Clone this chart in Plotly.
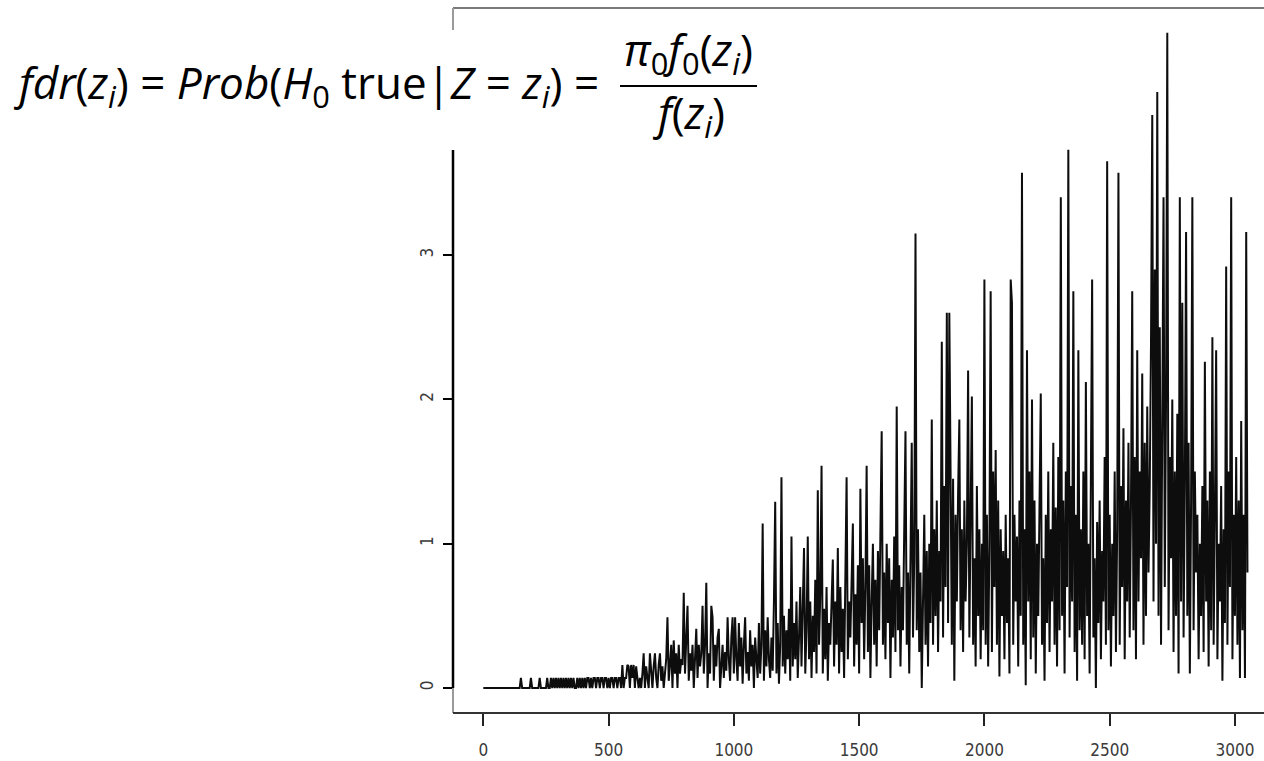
import plotly.graph_objects as go

# ---- data ----
x_index = list(range(0, 3051, 5))
fdr_values = [
    # 0-95
    0,0,0,0,0,0,0,0,0,0, 0,0,0,0,0,0,0,0,0,0,
    # 100-195
    0,0,0,0,0,0,0,0,0,0, 0.07,0,0,0,0,0,0,0,0.07,0,
    # 200-295
    0,0,0,0,0,0.07,0,0,0,0, 0,0.07,0,0,0.07,0,0.07,0,0.07,0,
    # 300-395
    0.07,0,0.07,0,0.07,0,0.07,0,0.07,0, 0.07,0,0.07,0,0,0.07,0,0.07,0,0.07,
    # 400-495
    0,0.07,0,0.07,0.07,0,0.07,0,0.07,0.07, 0,0.07,0.07,0,0.07,0.07,0,0.07,0.07,0,
    # 500-595
    0.07,0,0.07,0.07,0,0.07,0.07,0,0.07,0.07, 0,0.16,0,0.07,0.07,0.16,0.15,0,0.16,0.07,
    # 600-695
    0.16,0,0.15,0.07,0,0.07,0,0.1,0.24,0, 0.15,0.07,0,0.24,0.1,0,0.15,0.24,0.07,0,
    # 700-795
    0.16,0.24,0.05,0.15,0,0.1,0.2,0.49,0.05,0.16, 0.3,0,0.33,0.1,0.24,0,0.3,0.1,0.2,0.16,
    # 800-895
    0.66,0.1,0.3,0.57,0.05,0.24,0.12,0.3,0,0.2, 0.41,0.07,0.3,0.15,0.24,0.57,0.1,0.3,0.73,0,
    # 900-995
    0.24,0.1,0.57,0.49,0.05,0.3,0.15,0.35,0.41,0, 0.2,0.3,0.07,0.25,0.12,0.49,0.2,0.05,0.35,0.49,
    # 1000-1095
    0.1,0.49,0.2,0.05,0.45,0.15,0.35,0.03,0.3,0.49, 0.1,0.25,0.05,0.4,0.15,0.3,0,0.35,0.2,0.07,
    # 1100-1195
    0.45,0.1,0.3,1.14,0.05,0.4,0.15,0.49,0.2,0.07, 0.35,0.12,0.6,1.29,0.1,0.45,0.03,0.3,1.46,0.15,
    # 1200-1295
    0.5,0.1,0.4,0.2,0.55,0.05,1.05,0.15,0.45,0.2, 0.6,0.07,0.35,0.7,0.15,0.5,0.97,0.1,0.4,1.05,
    # 1300-1395
    0.2,0.6,0.07,0.5,0.25,0.75,0.1,1.37,0.3,0.65, 1.54,0.1,0.55,0.2,0.7,0.05,0.45,0.3,0.65,0.89,
    # 1400-1495
    0.15,0.6,0.3,0.97,0.1,0.7,0.25,0.55,0.07,0.75, 1.46,0.2,0.6,0.35,0.8,1.14,0.15,0.65,0.3,0.85,
    # 1500-1595
    0.1,1.38,0.45,0.9,0.2,0.7,1.54,0.25,0.85,0.07, 0.6,1.0,0.3,0.75,0.15,0.95,0.4,1.1,1.78,0.3,
    # 1600-1695
    0.8,0.2,1.0,0.45,0.9,0.07,0.75,0.35,1.05,0.25, 1.95,0.4,0.85,0.15,0.7,0.4,0.95,1.78,0.3,0.8,
    # 1700-1795
    0.1,0.75,1.7,0.35,0.9,3.15,0.4,1.1,0.25,0.8, 0,0.6,1.2,0.3,0.95,0.15,1.0,0.45,1.86,0.3,
    # 1800-1895
    1.1,0.5,1.3,0.25,0.95,0.6,2.4,0.35,1.4,0.7, 2.6,0.45,2.6,1.5,0.3,1.45,0.05,1.2,0.6,1.35,
    # 1900-1995
    1.86,0.4,1.1,0.25,1.3,0.6,1.0,2.2,0.35,1.2, 2.02,0.3,0.9,0.15,1.4,0.5,1.1,0.2,1.0,0.4,
    # 2000-2095
    2.83,0.3,1.2,0.15,1.0,2.75,0.25,1.5,0.7,1.65, 0.3,1.3,0.08,1.1,0.5,0.95,0.2,1.2,0.45,0.9,
    # 2100-2195
    0.1,2.83,2.67,0.3,1.2,0.6,1.05,0.15,1.3,0.5, 3.57,0.3,1.1,0.02,2.34,0.6,1.5,0.2,2.0,0.35,
    # 2200-2295
    1.3,0.1,1.0,0.5,1.15,2.04,0.3,0.9,0.05,1.2, 0.45,1.5,0.25,1.1,0.6,1.7,0.3,1.25,0.15,1.6,
    # 2300-2395
    0.4,3.4,0.5,1.3,0.1,1.5,0.7,3.73,0.35,1.4, 0.6,2.75,0.25,1.2,0.05,2.34,0.4,1.1,0.3,1.5,
    # 2400-2495
    0.2,2.12,0.5,1.0,0.1,1.3,2.83,0.35,0.9,0, 1.15,0.45,1.3,0.2,0.95,0.6,1.6,0.3,3.65,0.4,
    # 2500-2595
    1.2,0.15,1.0,0.5,1.5,0.25,1.1,3.57,0.3,1.4, 0.7,1.8,0.2,1.3,0.6,1.7,0.35,1.25,2.75,0.4,
    # 2600-2695
    1.6,0.2,2.34,0.6,1.5,0.9,2.18,0.3,1.7,0.5, 1.95,0.8,1.4,2.4,3.97,0.6,2.9,1.0,4.13,0.5,
    # 2700-2795
    2.5,0.3,1.8,3.4,0.7,2.0,4.54,0.4,1.6,0.9, 2.0,0.25,1.5,0.5,1.9,0.1,3.4,0.6,2.67,0.35,
    # 2800-2895
    1.4,3.16,0.5,1.7,0.1,1.3,3.4,0.4,1.5,0.8, 1.2,0.2,1.0,0.5,1.4,0.25,2.26,0.6,1.3,0.15,
    # 2900-2995
    1.5,0.4,2.43,0.3,1.2,2.34,0.2,1.0,0.6,1.4, 0.05,1.1,0.45,2.92,0.3,1.5,0.7,3.4,0.2,1.2,
    # 3000-3050
    0.5,1.6,0.3,1.3,0.07,1.85,0.4,1.2,0.07,3.16,0.8,
]
x_ticks = [0, 500, 1000, 1500, 2000, 2500, 3000]
y_ticks = [0, 1, 2, 3, 4]
formula_lhs = ("<i>fdr</i>(<i>z<sub>i</sub></i>) = <i>Prob</i>(<i>H</i><sub>0</sub> true|<i>Z</i> = "
               "<i>z<sub>i</sub></i>) =")
formula_num = "<i>π</i><sub>0</sub><i>f</i><sub>0</sub>(<i>z<sub>i</sub></i>)"
formula_den = "<i>f</i>(<i>z<sub>i</sub></i>)"

# ---- layout geometry (pixels) ----
W, H = 1264, 761
L, R, T, B = 453, 1264, 8, 713


def px(xp):
    return (xp - L) / (R - L)


def py(yp):
    return (B - yp) / (B - T)


fig = go.Figure()
fig.add_trace(go.Scatter(x=x_index, y=fdr_values, mode="lines",
                         line=dict(color="#0d0d0d", width=2.0), hoverinfo="skip",
                         showlegend=False))

tick_font = dict(family="Liberation Sans Narrow, DejaVu Sans Condensed, Arial Narrow, sans-serif",
                 size=17, color="#3a3a3a")

fig.update_layout(
    width=W, height=H,
    margin=dict(l=L, r=W - R, t=T, b=H - B),
    paper_bgcolor="white", plot_bgcolor="white",
    xaxis=dict(range=[-121, 3116], tickvals=x_ticks, ticktext=[str(v) for v in x_ticks],
               ticks="outside", ticklen=12, tickwidth=2, tickcolor="#222",
               showgrid=False, zeroline=False, showline=False, tickfont=tick_font,
               ticklabelstandoff=10),
    yaxis=dict(range=[-0.173, 4.712], tickvals=y_ticks, ticktext=[str(v) for v in y_ticks],
               ticks="outside", ticklen=9, tickwidth=2, tickcolor="black", tickangle=-90,
               showgrid=False, zeroline=False, showline=False, tickfont=tick_font,
               ticklabelstandoff=3),
)

shapes = []
box_col = "#7a7a7a"
# frame
shapes.append(dict(type="line", xref="paper", yref="paper", x0=0, x1=1, y0=1, y1=1,
                   line=dict(color=box_col, width=2)))
shapes.append(dict(type="line", xref="paper", yref="paper", x0=0, x1=0, y0=0, y1=1,
                   line=dict(color="#9a9a9a", width=2)))
shapes.append(dict(type="line", xref="paper", yref="paper", x0=0, x1=1, y0=0, y1=0,
                   line=dict(color="#333", width=2)))
# axis segment (y)
shapes.append(dict(type="line", xref="paper", yref="y", x0=0, x1=0, y0=y_ticks[0], y1=y_ticks[-1],
                   line=dict(color="black", width=2.5)))
# white background behind the formula
shapes.append(dict(type="rect", xref="paper", yref="paper", x0=px(-5), x1=px(780), y0=py(150), y1=py(30),
                   fillcolor="white", line=dict(width=0), layer="above"))
# fraction bar
shapes.append(dict(type="line", xref="paper", yref="paper", x0=px(620), x1=px(757), y0=py(86), y1=py(86),
                   line=dict(color="black", width=2), layer="above"))
fig.update_layout(shapes=shapes)

f_font = dict(family="Open Sans, Lato, sans-serif", size=44, color="black")
fig.add_annotation(xref="paper", yref="paper", x=px(12), y=py(84), xanchor="left", yanchor="middle",
                   text=formula_lhs, showarrow=False, font=f_font)
fig.add_annotation(xref="paper", yref="paper", x=px(688), y=py(52), xanchor="center", yanchor="middle",
                   text=formula_num, showarrow=False, font=f_font)
fig.add_annotation(xref="paper", yref="paper", x=px(689), y=py(114), xanchor="center", yanchor="middle",
                   text=formula_den, showarrow=False, font=f_font)

fig.write_html("out.html")
